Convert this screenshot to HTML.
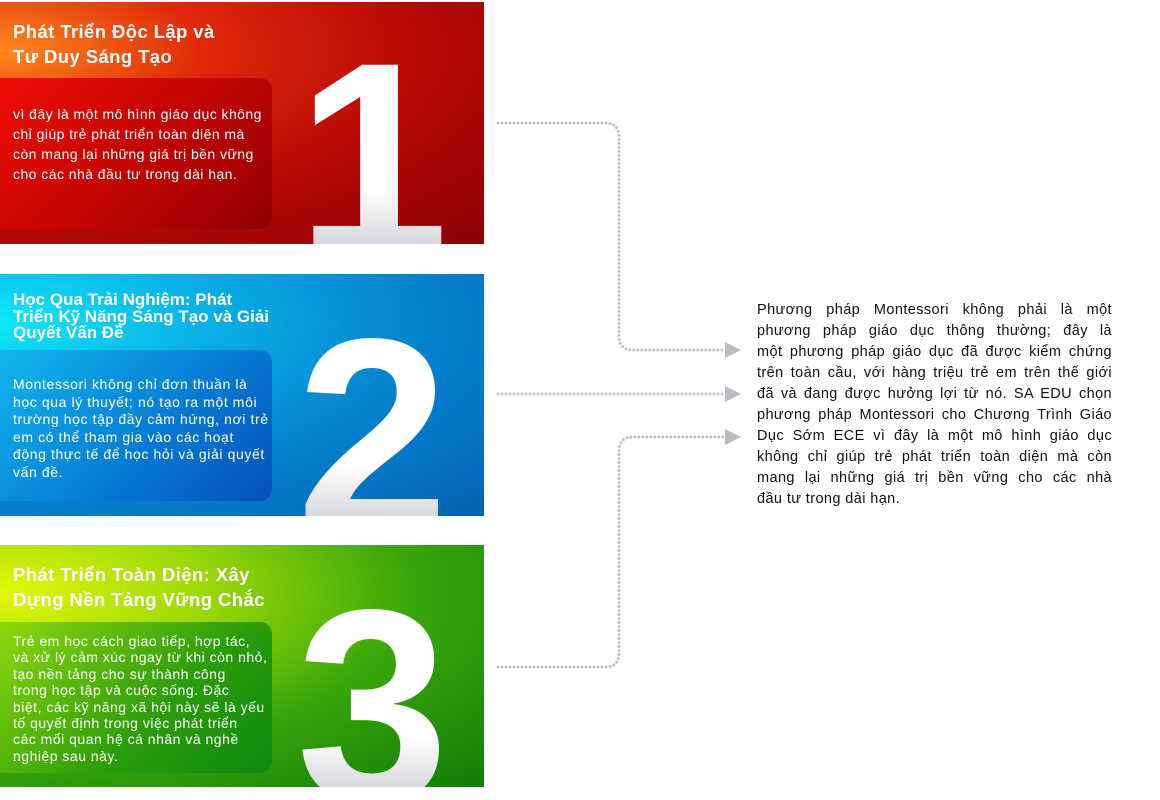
<!DOCTYPE html>
<html><head><meta charset="utf-8"><style>
html,body{margin:0;padding:0;background:#fff;width:1160px;height:800px;overflow:hidden;font-family:"Liberation Sans",sans-serif;position:relative;}
.p{position:absolute;left:0;width:484px;height:242px;overflow:hidden;}
.p1{top:2px;background:radial-gradient(ellipse at 0% 20%,#ff8a1c 0%,#e0280a 30%,#b80a06 60%,#8a0003 100%);}
.p2{top:274px;background:radial-gradient(ellipse at 0% 20%,#10e8f6 0%,#0ab0e8 30%,#0584d0 60%,#0562b4 100%);}
.p3{top:545px;background:radial-gradient(ellipse at 0% 20%,#e4f808 0%,#9cd808 30%,#38a60a 60%,#127c08 100%);}
.t{position:absolute;left:13px;color:#fff;font-weight:bold;font-size:18.5px;letter-spacing:0.4px;white-space:nowrap;}
.b{position:absolute;left:0;width:272px;height:151px;border-radius:0 12px 12px 0;}
.p1 .b{top:76px;background:linear-gradient(135deg,#f00c04,#a80204 80%,#8a0003);}
.p2 .b{top:76px;background:linear-gradient(135deg,#12b6ee,#0678d2 60%,#0650b8);}
.p3 .b{top:77px;background:linear-gradient(135deg,#8ed80e,#2a9c0c 60%,#0e8a10);}
.bt{position:absolute;left:13px;color:#fff;font-size:14px;letter-spacing:0.45px;white-space:nowrap;}
.n{position:absolute;font-weight:bold;font-size:275px;line-height:1;height:240px;overflow:hidden;background:linear-gradient(#fff 0%,#fff 70%,#c8c8d0 100%);-webkit-background-clip:text;background-clip:text;color:transparent;}
.r{position:absolute;left:757px;top:300px;width:355px;font-size:14.5px;line-height:21px;letter-spacing:0.4px;color:#111;}
.r div{text-align:justify;text-align-last:justify;white-space:nowrap;height:21px;}
.r div.l{text-align-last:left;}
</style></head><body>
<div class="p p1">
<div class="t" style="top:17px;line-height:25px">Phát Triển Độc Lập và<br>Tư Duy Sáng Tạo</div>
<div class="b"></div>
<div class="bt" style="top:102px;line-height:20px">vì đây là một mô hình giáo dục không<br>chỉ giúp trẻ phát triển toàn diện mà<br>còn mang lại những giá trị bền vững<br>cho các nhà đầu tư trong dài hạn.</div>
<div class="n" style="top:20px;left:296px">1</div>
</div>
<div class="p p2">
<div class="t" style="top:18px;line-height:16.5px;font-size:17px;letter-spacing:0">Học Qua Trải Nghiệm: Phát<br>Triển Kỹ Năng Sáng Tạo và Giải<br>Quyết Vấn Đề</div>
<div class="b"></div>
<div class="bt" style="top:102px;line-height:17.5px;letter-spacing:0.6px">Montessori không chỉ đơn thuần là<br>học qua lý thuyết; nó tạo ra một môi<br>trường học tập đầy cảm hứng, nơi trẻ<br>em có thể tham gia vào các hoạt<br>động thực tế để học hỏi và giải quyết<br>vấn đề.</div>
<div class="n" style="top:24px;left:296px">2</div>
</div>
<div class="p p3">
<div class="t" style="top:17px;line-height:25px">Phát Triển Toàn Diện: Xây<br>Dựng Nền Tảng Vững Chắc</div>
<div class="b"></div>
<div class="bt" style="top:88px;line-height:16.4px;letter-spacing:0.5px">Trẻ em học cách giao tiếp, hợp tác,<br>và xử lý cảm xúc ngay từ khi còn nhỏ,<br>tạo nền tảng cho sự thành công<br>trong học tập và cuộc sống. Đặc<br>biệt, các kỹ năng xã hội này sẽ là yếu<br>tố quyết định trong việc phát triển<br>các mối quan hệ cá nhân và nghề<br>nghiệp sau này.</div>
<div class="n" style="top:24px;left:296px">3</div>
</div>
<svg width="1160" height="800" style="position:absolute;left:0;top:0">
<g fill="none" stroke="#bfc3c8" stroke-width="3" stroke-linecap="round" stroke-dasharray="0 4">
<path d="M498 123 H605 Q619 123 619 137 V336 Q619 350 633 350 H724"/>
<path d="M498 394 H724"/>
<path d="M498 667 H605 Q619 667 619 653 V451 Q619 437 633 437 H724"/>
</g>
<g fill="#b8bcc2">
<polygon points="725,342 741,350 725,358"/>
<polygon points="725,386 741,394 725,402"/>
<polygon points="725,429 741,437 725,445"/>
</g>
</svg>
<div class="r">
<div>Phương pháp Montessori không phải là một</div>
<div>phương pháp giáo dục thông thường; đây là</div>
<div>một phương pháp giáo dục đã được kiểm chứng</div>
<div>trên toàn cầu, với hàng triệu trẻ em trên thế giới</div>
<div>đã và đang được hưởng lợi từ nó. SA EDU chọn</div>
<div>phương pháp Montessori cho Chương Trình Giáo</div>
<div>Dục Sớm ECE vì đây là một mô hình giáo dục</div>
<div>không chỉ giúp trẻ phát triển toàn diện mà còn</div>
<div>mang lại những giá trị bền vững cho các nhà</div>
<div class="l">đầu tư trong dài hạn.</div>
</div>
</body></html>
